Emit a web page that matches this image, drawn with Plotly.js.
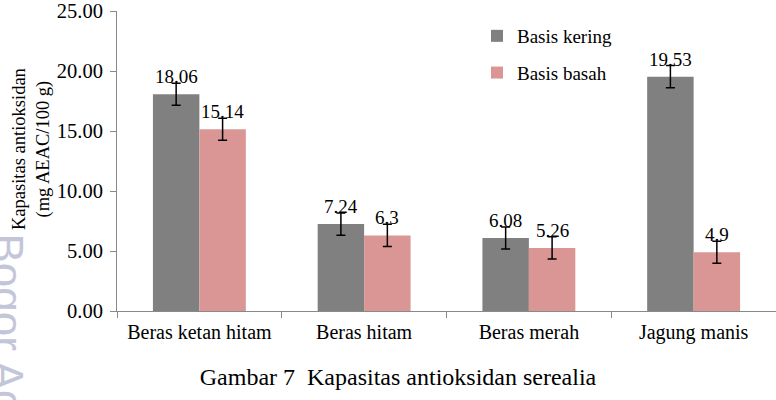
<!DOCTYPE html>
<html>
<head>
<meta charset="utf-8">
<script src="https://cdn.plot.ly/plotly-3.0.1.min.js"></script>
<style>html,body{margin:0;padding:0;background:#fff;}#chart{width:776px;height:400px;}</style>
</head>
<body>
<div id="chart"></div>
<script>
var categories = ["Beras ketan hitam", "Beras hitam", "Beras merah", "Jagung manis"];
var keringValues = [18.06, 7.24, 6.08, 19.53];
var basahValues = [15.14, 6.3, 5.26, 4.9];
var keringErrors = [0.92, 0.92, 0.92, 0.92];
var basahErrors = [0.92, 0.92, 0.92, 0.92];
var keringLabels = ["18.06", "7.24", "6.08", "19.53"];
var basahLabels = ["15.14", "6.3", "5.26", "4.9"];
var seriesNames = ["Basis kering", "Basis basah"];
var yTickValues = [0, 5, 10, 15, 20, 25];

var FONT = "Liberation Serif, Times New Roman, serif";
var plotW = 776 - 117 - 0;
var catW = plotW / categories.length;
var bargap = 0.436;
var barW = catW * (1 - bargap) / 2;

var traces = [
  {
    type: "bar", name: seriesNames[0], x: categories, y: keringValues,
    marker: {color: "#808080"}, legendgroup: "a",
    error_y: {type: "data", array: keringErrors, visible: true, color: "#000", thickness: 1.5, width: 4.5}
  },
  {
    type: "bar", name: seriesNames[1], x: categories, y: basahValues,
    marker: {color: "#d99694"}, legendgroup: "b",
    error_y: {type: "data", array: basahErrors, visible: true, color: "#000", thickness: 1.5, width: 4.5}
  }
];

var annotations = [];
categories.forEach(function (c, i) {
  annotations.push({x: c, y: keringValues[i], xref: "x", yref: "y", text: keringLabels[i], showarrow: false,
    xanchor: "center", yanchor: "bottom", xshift: -barW / 2, yshift: 5, font: {family: FONT, size: 19, color: "#000"}});
  annotations.push({x: c, y: basahValues[i], xref: "x", yref: "y", text: basahLabels[i], showarrow: false,
    xanchor: "center", yanchor: "bottom", xshift: barW / 2, yshift: 5, font: {family: FONT, size: 19, color: "#000"}});
});
// y-axis title
annotations.push({xref: "paper", yref: "paper", x: (31 - 117) / plotW, y: (311 - 149) / 300,
  text: "Kapasitas antioksidan<br>(mg AEAC/100 g)", textangle: -90, showarrow: false,
  xanchor: "center", yanchor: "middle", font: {family: FONT, size: 18.5, color: "#000"}});
// watermark
annotations.push({xref: "paper", yref: "paper", x: (7 - 117) / plotW, y: (311 - 231) / 300,
  text: "Bogor Agricultural University", textangle: 90, showarrow: false,
  xanchor: "center", yanchor: "top", font: {family: "Liberation Sans, Arial, sans-serif", size: 44, color: "#c3c6d9"}});

var layout = {
  width: 776, height: 400,
  margin: {l: 117, r: 0, t: 11, b: 89, pad: 0},
  paper_bgcolor: "#fff", plot_bgcolor: "#fff",
  font: {family: FONT, size: 20, color: "#000"},
  barmode: "group", bargap: bargap, bargroupgap: 0,
  title: {text: "Gambar 7 \u00a0Kapasitas antioksidan serealia", xref: "container", yref: "container",
    x: 398 / 776, y: 1 - 377 / 400, xanchor: "center", yanchor: "middle",
    font: {family: FONT, size: 24, color: "#000"}},
  xaxis: {type: "category", tickson: "boundaries", ticks: "outside", ticklen: 6, tickcolor: "#898989",
    showline: true, linecolor: "#898989", linewidth: 1, showgrid: false, ticklabelstandoff: 3,
    tickfont: {family: FONT, size: 20, color: "#000"}},
  yaxis: {range: [0, 25], tickvals: yTickValues, tickformat: ".2f", ticks: "outside", ticklen: 6,
    tickcolor: "#898989", showline: true, linecolor: "#898989", linewidth: 1, showgrid: false, zeroline: false,
    ticklabelstandoff: 3, ticklabeloverflow: "allow",
    tickfont: {family: FONT, size: 20.5, color: "#000"}},
  legend: {x: (477 - 117) / plotW, y: 1 - (17 - 11) / 300, xanchor: "left", yanchor: "top",
    traceorder: "grouped", tracegroupgap: 9, bgcolor: "rgba(0,0,0,0)",
    font: {family: FONT, size: 19, color: "#000"}},
  annotations: annotations,
  showlegend: true
};

Plotly.newPlot("chart", traces, layout, {displayModeBar: false, staticPlot: true});
</script>
</body>
</html>
